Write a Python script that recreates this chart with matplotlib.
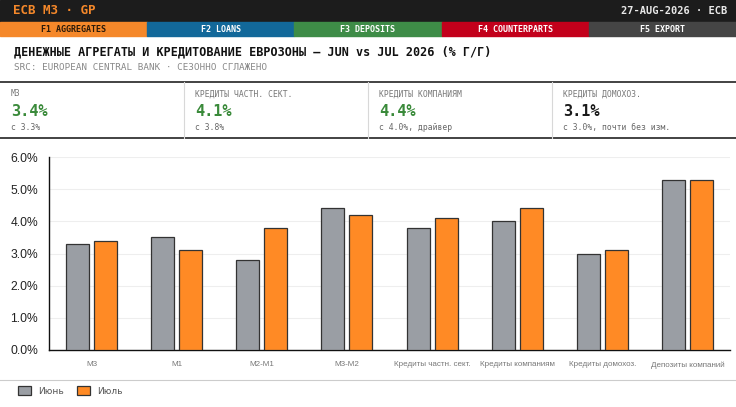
import numpy as np
import matplotlib
matplotlib.use("Agg")
import matplotlib.pyplot as plt
from matplotlib.patches import Rectangle
from matplotlib.lines import Line2D
from matplotlib.ticker import FuncFormatter

categories = ["M3", "M1", "M2-M1", "M3-M2", "Кредиты частн. сект.",
              "Кредиты компаниям", "Кредиты домохоз.", "Депозиты компаний"]
jun = [3.3, 3.5, 2.8, 4.4, 3.8, 4.0, 3.0, 5.3]
jul = [3.4, 3.1, 3.8, 4.2, 4.1, 4.4, 3.1, 5.3]
series_names = ["Июнь", "Июль"]

tabs = ["F1 AGGREGATES", "F2 LOANS", "F3 DEPOSITS", "F4 COUNTERPARTS", "F5 EXPORT"]
tab_colors = ["#f5882a", "#12689a", "#3e8c47", "#c3001b", "#454545"]
tab_text = ["#2a1a0a", "white", "white", "white", "white"]

kpi_labels = ["M3", "КРЕДИТЫ ЧАСТН. СЕКТ.", "КРЕДИТЫ КОМПАНИЯМ", "КРЕДИТЫ ДОМОХОЗ."]
kpi_values = ["3.4%", "4.1%", "4.4%", "3.1%"]
kpi_notes = ["с 3.3%", "с 3.8%", "с 4.0%, драйвер", "с 3.0%, почти без изм."]
kpi_colors = ["#3a8a3a", "#3a8a3a", "#3a8a3a", "#1a1a1a"]

GRAY = "#9a9ea4"
ORANGE = "#ff8a25"
MONO = "DejaVu Sans Mono"
SANS = "Liberation Sans"

W, H = 736, 407
fig = plt.figure(figsize=(W / 100, H / 100), dpi=100)
fig.patch.set_facecolor("white")


def fy(py):
    return 1 - py / H


def fx(px):
    return px / W


# top bar
fig.patches.append(Rectangle((0, fy(22)), 1, 22 / H, transform=fig.transFigure,
                             color="#1c1c1c", zorder=0))
fig.text(fx(13), fy(11), "ECB M3 · GP", color="#f5882a", fontsize=9, fontweight="bold",
         family=MONO, va="center", ha="left")
fig.text(fx(727), fy(11), "27-AUG-2026 · ECB", color="#e8e8e8", fontsize=7.5,
         fontweight="bold", family=MONO, va="center", ha="right")

# tabs
tw = W / len(tabs)
for i, (t, c, tc) in enumerate(zip(tabs, tab_colors, tab_text)):
    fig.patches.append(Rectangle((fx(i * tw), fy(36)), tw / W, 14 / H,
                                 transform=fig.transFigure, color=c, zorder=0))
    fig.text(fx(i * tw + tw / 2), fy(29), t, color=tc, fontsize=6, fontweight="bold",
             family=MONO, va="center", ha="center")

# title
fig.text(fx(14), fy(52), "ДЕНЕЖНЫЕ АГРЕГАТЫ И КРЕДИТОВАНИЕ ЕВРОЗОНЫ — JUN vs JUL 2026 (% Г/Г)",
         color="#111111", fontsize=8.45, fontweight="bold", family=MONO, va="center")
fig.text(fx(14), fy(67), "SRC: EUROPEAN CENTRAL BANK · СЕЗОННО СГЛАЖЕНО",
         color="#888888", fontsize=6.7, family=MONO, va="center")

# KPI strip
for py in (82, 138):
    fig.add_artist(Line2D([0, 1], [fy(py), fy(py)], transform=fig.transFigure,
                          color="#222222", lw=1.2))
for px in (184, 368, 552):
    fig.add_artist(Line2D([fx(px), fx(px)], [fy(138), fy(82)], transform=fig.transFigure,
                          color="#d8d8d8", lw=0.8))
for i in range(4):
    x0 = fx(i * 184 + 11)
    fig.text(x0, fy(94), kpi_labels[i], color="#777777", fontsize=5.8, family=MONO, va="center")
    fig.text(x0, fy(111), kpi_values[i], color=kpi_colors[i], fontsize=11, fontweight="bold",
             family=MONO, va="center")
    fig.text(x0, fy(127), kpi_notes[i], color="#666666", fontsize=5.8, family=MONO, va="center")

# chart
ax = fig.add_axes([fx(49), fy(350), fx(730) - fx(49), fy(157) - fy(350)])
x = np.arange(len(categories))
bw = 0.27
ax.bar(x - 0.165, jun, bw, color=GRAY, edgecolor="#333333", linewidth=0.9,
       label=series_names[0], zorder=3)
ax.bar(x + 0.165, jul, bw, color=ORANGE, edgecolor="#333333", linewidth=0.9,
       label=series_names[1], zorder=3)
ax.set_xlim(-0.5, len(categories) - 0.5)
ax.set_ylim(0, 6)
ax.set_yticks(np.arange(0, 7, 1))
ax.yaxis.set_major_formatter(FuncFormatter(lambda v, p: f"{v:.1f}%"))
ax.set_xticks(x)
ax.set_xticklabels(categories, fontsize=5.8, color="#777777", family=SANS)
for lab in ax.get_yticklabels():
    lab.set_family(SANS)
ax.tick_params(axis="y", labelsize=8.7, colors="#222222", length=0, pad=8)
ax.tick_params(axis="x", length=0, pad=8)
ax.grid(axis="y", color="#eeeeee", lw=0.8, zorder=0)
for s in ("top", "right"):
    ax.spines[s].set_visible(False)
ax.spines["left"].set_color("#111111")
ax.spines["bottom"].set_color("#111111")
ax.spines["left"].set_linewidth(1)
ax.spines["bottom"].set_linewidth(1)

fig.add_artist(Line2D([0, 1], [fy(380), fy(380)], transform=fig.transFigure,
                      color="#cccccc", lw=0.8))

handles, labels = ax.get_legend_handles_labels()
fig.legend(handles, labels, loc="center left", bbox_to_anchor=(fx(10), fy(391)),
           ncol=2, frameon=False, fontsize=6.5, handlelength=1.4, handleheight=1.1,
           columnspacing=1.5, labelcolor="#555555")

fig.savefig("out.png", dpi=100)
